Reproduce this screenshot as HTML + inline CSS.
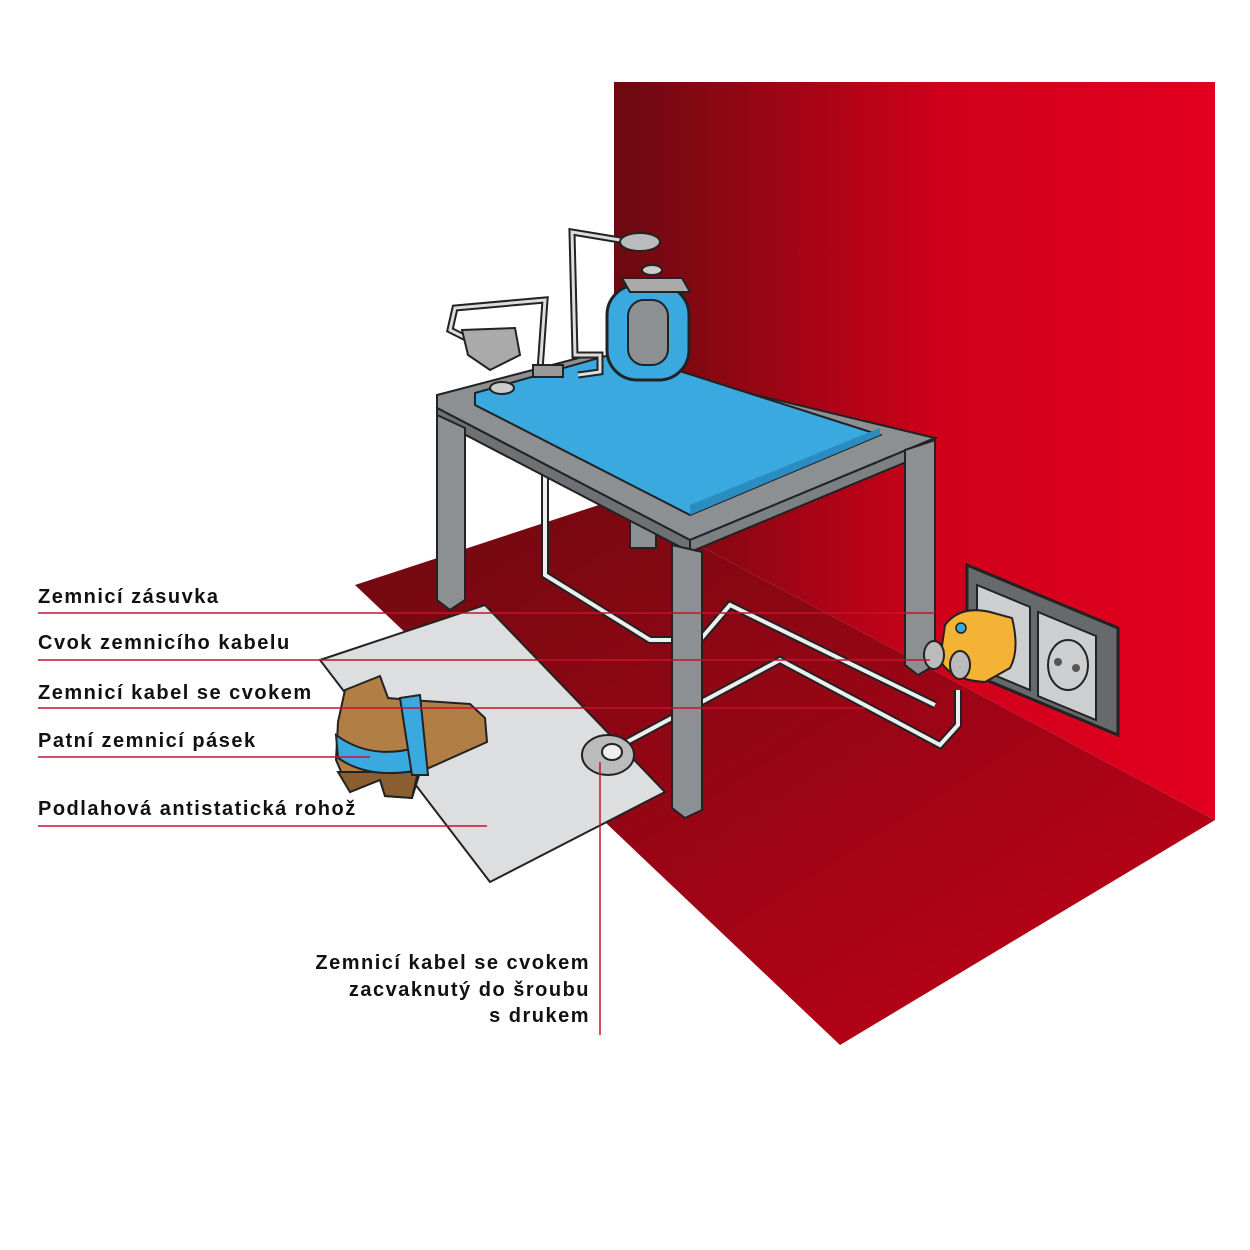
<!DOCTYPE html>
<html><head><meta charset="utf-8"><style>
html,body{margin:0;padding:0;background:#fff;}
svg{display:block;}
text{font-family:"Liberation Sans","DejaVu Sans",sans-serif;font-weight:bold;font-size:20px;fill:#111;letter-spacing:1.5px;}
</style></head><body>
<svg width="1250" height="1250" viewBox="0 0 1250 1250" xmlns="http://www.w3.org/2000/svg">
<defs>
<linearGradient id="wall" x1="0" y1="0" x2="1" y2="0">
<stop offset="0" stop-color="#6a0a10"/><stop offset="0.55" stop-color="#d0001a"/><stop offset="1" stop-color="#e2001f"/>
</linearGradient>
<linearGradient id="floor" x1="0" y1="0" x2="1" y2="1">
<stop offset="0" stop-color="#6e0a10"/><stop offset="1" stop-color="#c4001a"/>
</linearGradient>
</defs>
<polygon points="355,585 614,500 1215,820 840,1045" fill="url(#floor)"/>
<polygon points="614,82 1215,82 1215,820 614,500" fill="url(#wall)"/>
<polygon points="320,660 485,605 665,792 490,882" fill="#dcdedf" stroke="#222" stroke-width="2"/>
<rect x="630" y="512" width="26" height="36" fill="#8d9093" stroke="#222" stroke-width="2"/>
<path d="M545,470 L545,575 L650,640 L700,640 L730,605 L935,705" fill="none" stroke="#222" stroke-width="8"/>
<path d="M545,470 L545,575 L650,640 L700,640 L730,605 L935,705" fill="none" stroke="#eee" stroke-width="4"/>
<path d="M612,750 L780,660 L940,745 L958,725 L958,690" fill="none" stroke="#222" stroke-width="8"/>
<path d="M612,750 L780,660 L940,745 L958,725 L958,690" fill="none" stroke="#eee" stroke-width="4"/>
<polygon points="437,395 590,355 935,438 690,540 437,408" fill="#8d9093" stroke="#222" stroke-width="2"/>
<polygon points="437,408 690,540 690,552 437,420" fill="#6e7174" stroke="#222" stroke-width="2"/>
<polygon points="690,540 935,438 935,450 690,552" fill="#7d8083" stroke="#222" stroke-width="2"/>
<polygon points="437,415 465,428 465,600 450,610 437,600" fill="#8d9093" stroke="#222" stroke-width="2"/>
<polygon points="672,545 702,552 702,810 685,818 672,808" fill="#8d9093" stroke="#222" stroke-width="2"/>
<polygon points="905,450 935,440 935,665 918,675 905,665" fill="#8d9093" stroke="#222" stroke-width="2"/>
<polygon points="475,393 620,352 880,435 690,515 475,405" fill="#3aa9df" stroke="#222" stroke-width="2"/>
<polygon points="690,505 880,428 880,435 690,515" fill="#2a8cc0"/>
<rect x="607" y="285" width="82" height="95" rx="30" fill="#3aa9df" stroke="#222" stroke-width="3"/>
<rect x="628" y="300" width="40" height="65" rx="16" fill="#8d9093" stroke="#222" stroke-width="2"/>
<polygon points="622,278 682,278 690,292 630,292" fill="#aaa" stroke="#222" stroke-width="2"/>
<ellipse cx="652" cy="270" rx="10" ry="5" fill="#ccc" stroke="#222" stroke-width="2"/>
<path d="M578,375 L600,372 L600,355 L575,355 L572,232 L620,240" fill="none" stroke="#222" stroke-width="7"/>
<path d="M578,375 L600,372 L600,355 L575,355 L572,232 L620,240" fill="none" stroke="#ddd" stroke-width="3"/>
<ellipse cx="640" cy="242" rx="20" ry="9" fill="#bbb" stroke="#222" stroke-width="2"/>
<path d="M540,370 L545,300 L455,308 L450,330 L470,340" fill="none" stroke="#222" stroke-width="7"/>
<path d="M540,370 L545,300 L455,308 L450,330 L470,340" fill="none" stroke="#ddd" stroke-width="3"/>
<polygon points="462,330 515,328 520,355 490,370 468,355" fill="#aaa" stroke="#222" stroke-width="2"/>
<rect x="533" y="365" width="30" height="12" fill="#999" stroke="#222" stroke-width="2"/>
<ellipse cx="502" cy="388" rx="12" ry="6" fill="#ccc" stroke="#222" stroke-width="2"/>
<ellipse cx="608" cy="755" rx="26" ry="20" fill="#bbb" stroke="#222" stroke-width="2"/>
<ellipse cx="612" cy="752" rx="10" ry="8" fill="#eee" stroke="#222" stroke-width="2"/>
<!-- boot -->
<path d="M345,690 L380,676 L388,698 L410,700 L470,704 L485,718 L487,742 L420,772 L412,798 L385,796 L380,780 L350,792 L336,760 L338,722 Z" fill="#b17e45" stroke="#222" stroke-width="2"/>
<path d="M338,772 L350,792 L380,780 L385,796 L412,798 L418,772 Z" fill="#8a5e30" stroke="#222" stroke-width="2"/>
<path d="M336,735 Q370,760 415,748 L418,770 Q370,780 338,758 Z" fill="#3aa9df" stroke="#222" stroke-width="2"/>
<path d="M400,698 L420,695 L428,775 L412,775 Z" fill="#3aa9df" stroke="#222" stroke-width="2"/>
<polygon points="967,565 1118,628 1118,735 967,672" fill="#666a6d" stroke="#222" stroke-width="3"/>
<polygon points="977,585 1030,607 1030,690 977,668" fill="#ccced0" stroke="#222" stroke-width="2"/>
<polygon points="1038,612 1096,636 1096,720 1038,696" fill="#ccced0" stroke="#222" stroke-width="2"/>
<ellipse cx="1068" cy="665" rx="20" ry="25" fill="none" stroke="#222" stroke-width="2"/>
<circle cx="1058" cy="662" r="4" fill="#555"/><circle cx="1076" cy="668" r="4" fill="#555"/>
<path d="M945,625 Q960,605 990,612 L1012,618 Q1020,650 1010,668 L985,682 Q950,680 940,660 Z" fill="#f5b335" stroke="#222" stroke-width="2"/>
<circle cx="961" cy="628" r="5" fill="#3aa9df" stroke="#222" stroke-width="1.5"/>
<ellipse cx="934" cy="655" rx="10" ry="14" fill="#bbb" stroke="#222" stroke-width="2"/>
<ellipse cx="960" cy="665" rx="10" ry="14" fill="#bbb" stroke="#222" stroke-width="2"/>
<g stroke="#c8102e" stroke-width="1.5">
<line x1="38" y1="613" x2="935" y2="613"/>
<line x1="38" y1="660" x2="930" y2="660"/>
<line x1="38" y1="708" x2="865" y2="708"/>
<line x1="38" y1="757" x2="370" y2="757"/>
<line x1="38" y1="826" x2="487" y2="826"/>
<line x1="600" y1="762" x2="600" y2="1035"/>
</g>
<text x="38" y="603">Zemnicí zásuvka</text>
<text x="38" y="649">Cvok zemnicího kabelu</text>
<text x="38" y="699">Zemnicí kabel se cvokem</text>
<text x="38" y="747">Patní zemnicí pásek</text>
<text x="38" y="815">Podlahová antistatická rohož</text>
<text x="590" y="969" text-anchor="end">Zemnicí kabel se cvokem</text>
<text x="590" y="996" text-anchor="end">zacvaknutý do šroubu</text>
<text x="590" y="1022" text-anchor="end">s drukem</text>
</svg>
</body></html>
